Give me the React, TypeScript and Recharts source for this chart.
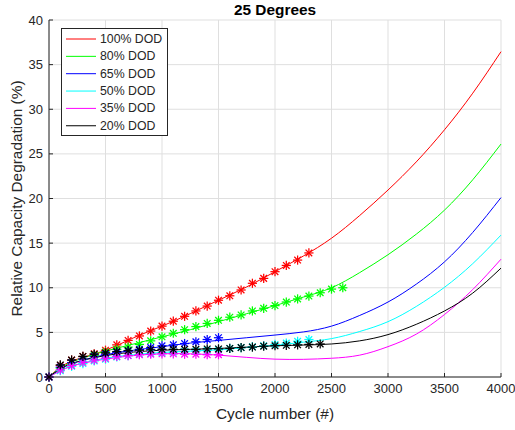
import { ComposedChart, Line, Scatter, XAxis, YAxis, CartesianGrid, Legend } from 'recharts'

const FONT = '"Liberation Sans", Arial, Helvetica, sans-serif'
const AXIS = '#262626'

const cycleTicks = [0, 500, 1000, 1500, 2000, 2500, 3000, 3500, 4000]
const degTicks = [0, 5, 10, 15, 20, 25, 30, 35, 40]

// fitted curves, sampled cycles
const fitCycles = [0, 100, 250, 500, 750, 1000, 1250, 1500, 1750, 2000, 2250, 2500, 2750, 3000, 3250, 3500, 3750, 4000]
const fit100 = [0, 1.1, 2.0, 3.0, 4.4, 5.7, 7.1, 8.6, 10.1, 11.8, 13.55, 15.55, 18.1, 20.95, 24.1, 27.7, 31.8, 36.45]
const fit80 = [0, 1.0, 1.9, 2.9, 3.7, 4.5, 5.3, 6.2, 7.1, 8.0, 8.95, 10.0, 11.7, 13.7, 16.0, 18.7, 22.1, 26.1]
const fit65 = [0, 0.9, 1.7, 2.5, 3.0, 3.4, 3.8, 4.1, 4.4, 4.7, 5.05, 5.7, 6.9, 8.4, 10.4, 12.9, 16.2, 20.1]
const fit50 = [0, 0.7, 1.4, 2.1, 2.5, 2.75, 2.9, 3.05, 3.3, 3.55, 3.9, 4.3, 5.1, 6.2, 7.9, 10.05, 12.7, 15.9]
const fit35 = [0, 0.7, 1.4, 2.0, 2.4, 2.6, 2.6, 2.45, 2.2, 2.0, 1.98, 2.1, 2.45, 3.4, 4.8, 7.0, 9.8, 13.2]
const fit20 = [0, 0.9, 1.7, 2.4, 2.8, 3.0, 3.1, 3.2, 3.35, 3.5, 3.58, 3.7, 4.05, 4.75, 5.9, 7.4, 9.4, 12.2]

// measured points, every 100 cycles
const measCycles = [0, 100, 200, 300, 400, 500, 600, 700, 800, 900, 1000, 1100, 1200, 1300, 1400, 1500, 1600, 1700, 1800, 1900, 2000, 2100, 2200, 2300, 2400, 2500, 2600]
const meas100 = [0, 1.3, 1.9, 2.3, 2.6, 3.0, 3.6, 4.1, 4.6, 5.15, 5.7, 6.25, 6.8, 7.4, 7.95, 8.6, 9.1, 9.75, 10.5, 11.05, 11.8, 12.5, 13.1, 13.9]
const meas80 = [0, 1.0, 1.6, 2.0, 2.4, 2.8, 3.1, 3.35, 3.65, 4.05, 4.5, 4.9, 5.3, 5.65, 6.0, 6.35, 6.7, 6.95, 7.4, 7.7, 8.0, 8.4, 8.75, 9.07, 9.44, 9.85, 10.0]
const meas65 = [0, 1.1, 1.6, 2.0, 2.3, 2.55, 2.75, 2.9, 3.1, 3.3, 3.5, 3.6, 3.75, 3.95, 4.2, 4.4]
const meas50 = [0, 0.7, 1.2, 1.5, 1.8, 2.0, 2.25, 2.4, 2.55, 2.65, 2.75, 2.8, 2.85, 2.9, 3.0, 3.05, 3.2, 3.3, 3.4, 3.5, 3.65, 3.8, 4.0, 4.2]
const meas35 = [0, 0.8, 1.3, 1.65, 1.9, 2.1, 2.3, 2.4, 2.5, 2.55, 2.6, 2.6, 2.55, 2.55, 2.5, 2.5]
const meas20 = [0, 1.35, 1.9, 2.3, 2.55, 2.7, 2.85, 2.95, 3.0, 3.05, 3.1, 3.1, 3.1, 3.1, 3.15, 3.15, 3.2, 3.3, 3.35, 3.45, 3.5, 3.55, 3.6, 3.65, 3.7]

const series = [
  { name: '100% DOD', color: '#ff0000', fit: fit100, meas: meas100 },
  { name: '80% DOD', color: '#00ff00', fit: fit80, meas: meas80 },
  { name: '65% DOD', color: '#0000ff', fit: fit65, meas: meas65 },
  { name: '50% DOD', color: '#00ffff', fit: fit50, meas: meas50 },
  { name: '35% DOD', color: '#ff00ff', fit: fit35, meas: meas35 },
  { name: '20% DOD', color: '#000000', fit: fit20, meas: meas20 },
]

const toPoints = (xs: number[], ys: number[]) => ys.map((y, i) => ({ x: xs[i], y }))

function Asterisk(props: any) {
  const { cx, cy, color } = props
  if (cx == null || cy == null) return null
  const r = 4.6
  const d = r * 0.72
  return (
    <g stroke={color} strokeWidth={1.25}>
      <line x1={cx - r} y1={cy} x2={cx + r} y2={cy} />
      <line x1={cx} y1={cy - r} x2={cx} y2={cy + r} />
      <line x1={cx - d} y1={cy - d} x2={cx + d} y2={cy + d} />
      <line x1={cx - d} y1={cy + d} x2={cx + d} y2={cy - d} />
    </g>
  )
}

function LegendBox() {
  return (
    <svg width={107} height={108} style={{ display: 'block' }}>
      <rect x={0.5} y={0.5} width={106} height={107} fill="#fff" stroke={AXIS} strokeWidth={1} />
      {series.map((s, i) => (
        <g key={s.name}>
          <line x1={5} x2={35} y1={11 + i * 17.35} y2={11 + i * 17.35} stroke={s.color} strokeWidth={1} />
          <text x={39} y={11 + i * 17.35} dominantBaseline="central" fontSize={12.3} fill={AXIS} fontFamily={FONT}>
            {s.name}
          </text>
        </g>
      ))}
    </svg>
  )
}

export default function App() {
  return (
    <div style={{ position: 'absolute', left: 0, top: 0, width: 515, height: 430, background: '#fff', fontFamily: FONT }}>
      <div style={{ position: 'absolute', left: 49, width: 452, top: 1, textAlign: 'center', fontSize: 15.4, fontWeight: 'bold', color: '#000' }}>
        25 Degrees
      </div>
      <ComposedChart width={515} height={430} margin={{ top: 20, right: 14, bottom: 0, left: 0 }}>
        <CartesianGrid stroke="#dfdfdf" />
        <XAxis
          type="number"
          dataKey="x"
          domain={[0, 4000]}
          ticks={cycleTicks}
          height={53}
          tickSize={-4}
          tickMargin={11}
          stroke={AXIS}
          tick={{ fontSize: 13, fill: AXIS, fontFamily: FONT }}
          allowDuplicatedCategory={false}
          label={{
            content: () => (
              <text x={275} y={413} textAnchor="middle" dominantBaseline="central" fontSize={15.4} fill={AXIS} fontFamily={FONT}>
                Cycle number (#)
              </text>
            ),
          }}
        />
        <YAxis
          type="number"
          dataKey="y"
          domain={[0, 40]}
          ticks={degTicks}
          width={49}
          tickSize={-4}
          tickMargin={10}
          stroke={AXIS}
          tick={{ fontSize: 13, fill: AXIS, fontFamily: FONT }}
          label={{
            content: () => (
              <text x={16} y={198.5} transform="rotate(-90 16 198.5)" textAnchor="middle" dominantBaseline="central" fontSize={15.4} fill={AXIS} fontFamily={FONT}>
                Relative Capacity Degradation (%)
              </text>
            ),
          }}
        />
        {series.map((s) => (
          <Line
            key={'fit' + s.name}
            data={toPoints(fitCycles, s.fit)}
            dataKey="y"
            type="natural"
            stroke={s.color}
            strokeWidth={1}
            dot={false}
            activeDot={false}
            isAnimationActive={false}
          />
        ))}
        {series.map((s) => (
          <Scatter
            key={'meas' + s.name}
            data={toPoints(measCycles, s.meas)}
            dataKey="y"
            fill={s.color}
            legendType="none"
            shape={(p: any) => <Asterisk {...p} color={s.color} />}
            isAnimationActive={false}
          />
        ))}
        <Legend
          layout="vertical"
          align="center"
          verticalAlign="middle"
          content={() => <LegendBox />}
          wrapperStyle={{ left: 61, top: 28, width: 'auto' }}
        />
      </ComposedChart>
    </div>
  )
}
